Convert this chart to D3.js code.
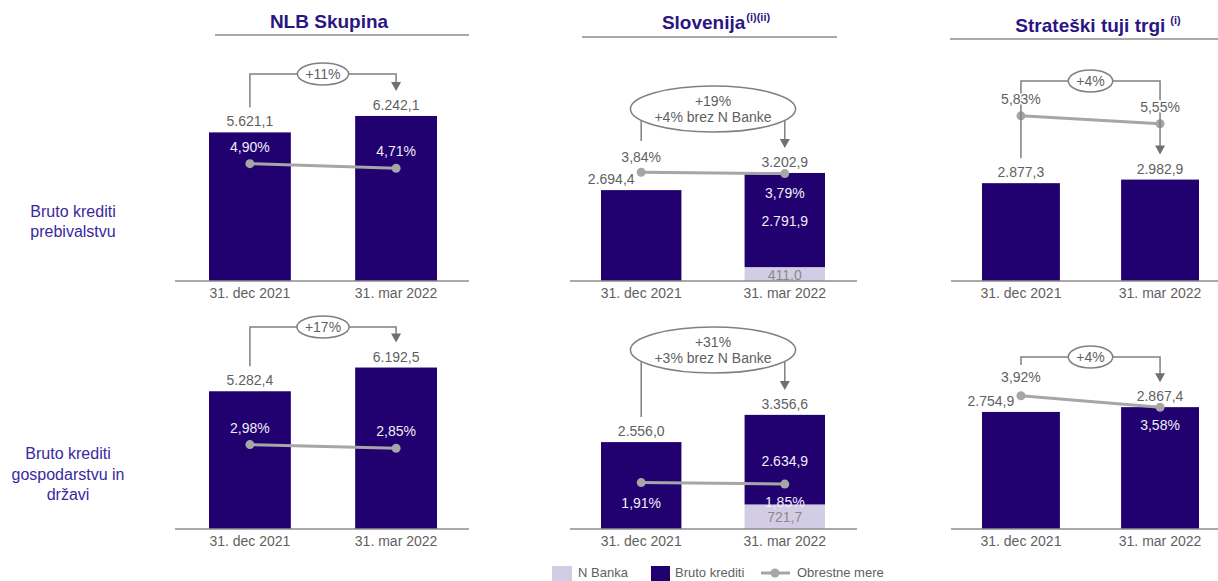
<!DOCTYPE html>
<html>
<head>
<meta charset="utf-8">
<script src="https://cdn.jsdelivr.net/npm/d3@7"></script>
<style>
  body { margin: 0; background: #fff; }
  text { font-family: "Liberation Sans", Arial, sans-serif; }
</style>
</head>
<body>
<div id="chart"></div>
<script>
// chart size
const width = 1218;
const height = 581;

// ---- data ----
const periods = ["31. dec 2021", "31. mar 2022"];
const panelTitles = ["NLB Skupina", "Slovenija", "Strateški tuji trgi"];
const titleNotes = ["", "(i)(ii)", "(i)"];
const rowLabels = [["Bruto krediti", "prebivalstvu"], ["Bruto krediti", "gospodarstvu in", "državi"]];
const legendLabels = ["N Banka", "Bruto krediti", "Obrestne mere"];

// rows: prebivalstvo, gospodarstvo; columns: NLB Skupina, Slovenija, Strateški tuji trgi
const brutoKrediti = [
  [[5621.1, 6242.1], [2694.4, 2791.9], [2877.3, 2982.9]],
  [[5282.4, 6192.5], [2556.0, 2634.9], [2754.9, 2867.4]]
];
const nBanka = [
  [[0, 0], [0, 411.0], [0, 0]],
  [[0, 0], [0, 721.7], [0, 0]]
];
const obrestneMere = [
  [[4.90, 4.71], [3.84, 3.79], [5.83, 5.55]],
  [[2.98, 2.85], [1.91, 1.85], [3.92, 3.58]]
];
const growthLabels = [
  [["+11%"], ["+19%", "+4% brez N Banke"], ["+4%"]],
  [["+17%"], ["+31%", "+3% brez N Banke"], ["+4%"]]
];

// ---- layout ----
const barRange = [[209, 437], [601, 825], [982, 1199]];
const baseLine = [[175, 469], [570, 857], [951, 1218]];
const titleX = [329, 716, 1098];
const titleY = [28, 29, 32];
const underline = [[215, 469, 35], [582, 837, 37], [950, 1218, 39]];
const rowBase = [281, 529];
const plotH = 170;
const barMax = [[6430, 5040, 5000], [6520, 5000, 4000]];
const rateMax = [[7.1, 6, 6], [6, 7, 5]];
const bracketH = [[207, 172, 200], [202, 179, 172]];
const leftGap = [[25, 49, 25], [25, 25, 47]];
const totalDx = [[[0, 0], [-30, 0], [0, 0]], [[0, 0], [0, 0], [-30, 0]]];
const rateDy = [[[-12, -12], [-10, 24], [-12, -12]], [[-12, -12], [25, 23], [-14, 23]]];

const navy = "#210070";
const lilac = "#D3CCE5";
const grey = "#A6A6A6";
const txtGrey = "#5f5f5f";
const fmt = v => d3.format(",.1f")(v).replace(/,/g, "#").replace(".", ",").replace(/#/g, ".");
const fmtPct = v => d3.format(".2f")(v).replace(".", ",") + "%";

const svg = d3.select("#chart").append("svg")
  .attr("width", width)
  .attr("height", height);

// titles
panelTitles.forEach((t, p) => {
  const tx = svg.append("text")
    .attr("x", titleX[p]).attr("y", titleY[p])
    .attr("text-anchor", "middle")
    .attr("font-size", 19).attr("font-weight", "bold")
    .attr("fill", "#2A1683")
    .text(t);
  if (titleNotes[p]) {
    tx.append("tspan")
      .attr("dx", p == 2 ? 5 : 1).attr("dy", -8)
      .attr("font-size", 11)
      .text(titleNotes[p]);
  }
  svg.append("line")
    .attr("x1", underline[p][0]).attr("x2", underline[p][1])
    .attr("y1", underline[p][2]).attr("y2", underline[p][2])
    .attr("stroke", "#8c8c8c").attr("stroke-width", 1.5);
});

// row labels
const rowLabelY = [[217, 237], [459, 480, 500]];
const rowLabelX = [73, 68];
rowLabels.forEach((lines, r) => {
  lines.forEach((l, i) => {
    svg.append("text")
      .attr("x", rowLabelX[r]).attr("y", rowLabelY[r][i])
      .attr("text-anchor", "middle")
      .attr("font-size", 16).attr("fill", "#3A28A0")
      .text(l);
  });
});

// panels
rowBase.forEach((base, r) => {
  panelTitles.forEach((t, p) => {
    const g = svg.append("g");

    const x = d3.scaleBand()
      .domain(periods)
      .range(barRange[p])
      .paddingInner(0.44)
      .paddingOuter(0);
    const yBar = d3.scaleLinear().domain([0, barMax[r][p]]).range([base, base - plotH]);
    const yRate = d3.scaleLinear().domain([0, rateMax[r][p]]).range([base, base - plotH]);
    const cx = d => x(d) + x.bandwidth() / 2;

    const rows = periods.map((d, i) => ({
      period: d,
      bruto: brutoKrediti[r][p][i],
      nb: nBanka[r][p][i],
      total: brutoKrediti[r][p][i] + nBanka[r][p][i],
      rate: obrestneMere[r][p][i]
    }));

    // N Banka segment
    g.selectAll(".nb").data(rows.filter(d => d.nb > 0)).enter()
      .append("rect")
      .attr("x", d => x(d.period))
      .attr("y", d => yBar(d.nb))
      .attr("width", x.bandwidth())
      .attr("height", d => base - yBar(d.nb))
      .attr("fill", lilac);

    // bruto krediti segment
    g.selectAll(".bar").data(rows).enter()
      .append("rect")
      .attr("x", d => x(d.period))
      .attr("y", d => yBar(d.total))
      .attr("width", x.bandwidth())
      .attr("height", d => yBar(d.nb) - yBar(d.total))
      .attr("fill", navy);

    // axis
    g.append("line")
      .attr("x1", baseLine[p][0]).attr("x2", baseLine[p][1])
      .attr("y1", base).attr("y2", base)
      .attr("stroke", "#8c8c8c").attr("stroke-width", 1.5);
    g.append("g")
      .attr("transform", `translate(0,${base})`)
      .call(d3.axisBottom(x).tickSize(0).tickPadding(7))
      .call(a => a.select(".domain").remove())
      .selectAll("text")
      .attr("font-size", 14)
      .attr("fill", txtGrey);

    // interest rate line
    g.append("path")
      .datum(rows)
      .attr("d", d3.line().x(d => cx(d.period)).y(d => yRate(d.rate)))
      .attr("fill", "none")
      .attr("stroke", grey)
      .attr("stroke-width", 3);
    g.selectAll(".dot").data(rows).enter()
      .append("circle")
      .attr("cx", d => cx(d.period))
      .attr("cy", d => yRate(d.rate))
      .attr("r", 4.5)
      .attr("fill", grey);

    // growth bracket
    const lx = cx(periods[0]), rx = cx(periods[1]);
    const by = base - bracketH[r][p];
    const startY = yBar(rows[0].total) - leftGap[r][p];
    const tipY = yBar(rows[1].total) - 25;
    g.append("path")
      .attr("d", `M${lx},${startY}V${by}H${rx}V${tipY - 8}`)
      .attr("fill", "none")
      .attr("stroke", "#808080")
      .attr("stroke-width", 1.5);
    g.append("path")
      .attr("d", `M${rx - 5},${tipY - 9}L${rx + 5},${tipY - 9}L${rx},${tipY}Z`)
      .attr("fill", "#707070");

    const lines = growthLabels[r][p];
    const ell = g.append("ellipse")
      .attr("cx", (lx + rx) / 2).attr("cy", by)
      .attr("fill", "#fff")
      .attr("stroke", "#808080")
      .attr("stroke-width", 1.5);
    let maxW = 0;
    lines.forEach((l, i) => {
      const dy = lines.length > 1 ? (i == 0 ? -3.5 : 13) : 5;
      const tt = g.append("text")
        .attr("x", (lx + rx) / 2).attr("y", by + dy)
        .attr("text-anchor", "middle")
        .attr("font-size", 14).attr("fill", txtGrey)
        .text(l);
      maxW = Math.max(maxW, tt.node().getComputedTextLength());
    });
    if (lines.length > 1) {
      ell.attr("rx", maxW / 2 + 24).attr("ry", 23);
    } else {
      ell.attr("rx", maxW / 2 + 8).attr("ry", 11);
    }

    // labels
    rows.forEach((d, i) => {
      const top = yBar(d.total);
      // total value above bar
      g.append("text")
        .attr("x", cx(d.period) + totalDx[r][p][i])
        .attr("y", top - 6)
        .attr("text-anchor", "middle")
        .attr("font-size", 14).attr("fill", txtGrey)
        .attr("stroke", "#fff").attr("stroke-width", 3).attr("paint-order", "stroke")
        .text(fmt(d.total));

      // split values
      if (d.nb > 0) {
        g.append("text")
          .attr("x", cx(d.period))
          .attr("y", (yBar(d.total) + yBar(d.nb)) / 2 + 6)
          .attr("text-anchor", "middle")
          .attr("font-size", 14).attr("fill", "#f0eef7")
          .text(fmt(d.bruto));
        g.append("text")
          .attr("x", cx(d.period))
          .attr("y", (yBar(d.nb) + base) / 2 + 5.5)
          .attr("text-anchor", "middle")
          .attr("font-size", 14).attr("fill", "#8a8a8a")
          .text(fmt(d.nb));
      }

      // interest rate label
      const ly = yRate(d.rate) + rateDy[r][p][i];
      const inside = ly - 10 > top;
      const rt = g.append("text")
        .attr("x", cx(d.period))
        .attr("y", ly)
        .attr("text-anchor", "middle")
        .attr("font-size", 14)
        .attr("fill", inside ? "#f0eef7" : txtGrey)
        .text(fmtPct(d.rate));
      if (!inside) {
        rt.attr("stroke", "#fff").attr("stroke-width", 3).attr("paint-order", "stroke");
      }
    });
  });
});

// legend
const legend = svg.append("g");
legend.append("rect").attr("x", 552).attr("y", 566).attr("width", 20).attr("height", 15).attr("fill", lilac);
legend.append("text").attr("x", 578).attr("y", 577).attr("font-size", 13).attr("fill", txtGrey).text(legendLabels[0]);
legend.append("rect").attr("x", 651).attr("y", 566).attr("width", 19).attr("height", 15).attr("fill", navy);
legend.append("text").attr("x", 675).attr("y", 577).attr("font-size", 13).attr("fill", txtGrey).text(legendLabels[1]);
legend.append("line").attr("x1", 761).attr("x2", 790).attr("y1", 573).attr("y2", 573)
  .attr("stroke", grey).attr("stroke-width", 3);
legend.append("circle").attr("cx", 775).attr("cy", 573).attr("r", 4.5).attr("fill", grey);
legend.append("text").attr("x", 797).attr("y", 577).attr("font-size", 13).attr("fill", txtGrey).text(legendLabels[2]);
</script>
</body>
</html>
